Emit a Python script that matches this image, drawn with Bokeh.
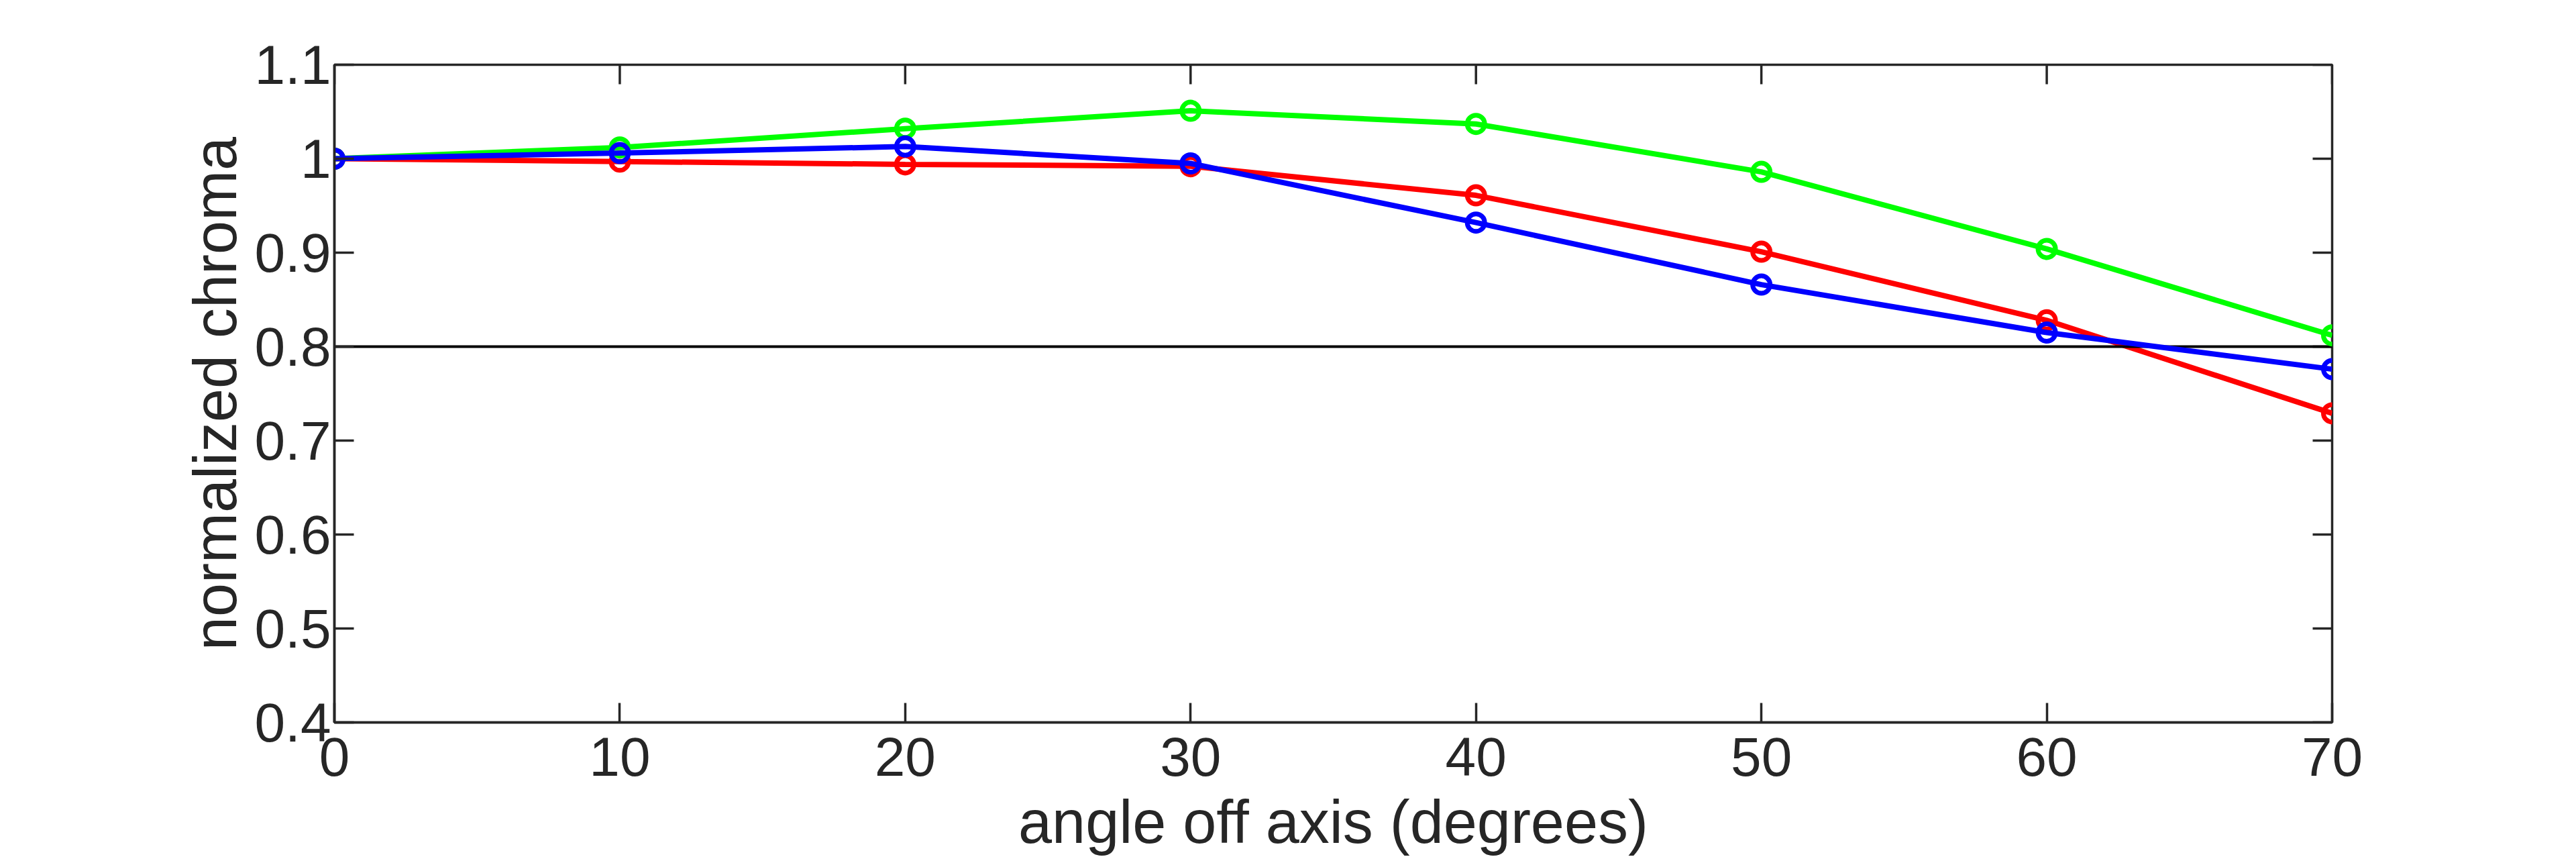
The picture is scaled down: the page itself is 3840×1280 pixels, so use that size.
import math
from bokeh.plotting import figure
from bokeh.models import Range1d, FixedTicker
from bokeh.embed import file_html
from bokeh.resources import INLINE

# ---- data ----
angles = [0, 10, 20, 30, 40, 50, 60, 70]
red_chroma = [1.000, 0.997, 0.994, 0.992, 0.961, 0.901, 0.828, 0.729]
green_chroma = [1.000, 1.012, 1.032, 1.051, 1.037, 0.986, 0.904, 0.812]
blue_chroma = [1.000, 1.006, 1.013, 0.995, 0.932, 0.866, 0.815, 0.776]
threshold = 0.8

x_ticks = [0, 10, 20, 30, 40, 50, 60, 70]
y_ticks = [0.4, 0.5, 0.6, 0.7, 0.8, 0.9, 1.0, 1.1]
y_tick_labels = ["0.4", "0.5", "0.6", "0.7", "0.8", "0.9", "1", "1.1"]
x_label = "angle off axis (degrees)"
y_label = "normalized chroma"
x_min, x_max = 0, 70
y_min, y_max = 0.4, 1.1

# ---- styling ----
FONT = "Liberation Sans"
TICK_FS = "82px"
LABEL_FS = "90px"
AX = "#262626"
AXW = 3.5
LW = 8
TICK_LEN = 29

p = figure(
    width=3840, height=1280,
    x_range=Range1d(x_min, x_max), y_range=Range1d(y_min, y_max),
    output_backend="svg", toolbar_location=None,
    min_border_left=498, min_border_right=364,
    min_border_top=96, min_border_bottom=204,
    background_fill_color="white", border_fill_color="white",
)
p.grid.visible = False
p.outline_line_color = AX
p.outline_line_width = AXW

for ax in (p.xaxis[0], p.yaxis[0]):
    ax.axis_line_color = AX
    ax.axis_line_width = AXW
    ax.major_tick_line_color = AX
    ax.major_tick_line_width = AXW
    ax.major_tick_in = TICK_LEN
    ax.major_tick_out = 0
    ax.minor_tick_line_color = None
    ax.major_label_text_font = FONT
    ax.major_label_text_font_size = TICK_FS
    ax.major_label_text_color = AX
    ax.axis_label_text_font = FONT
    ax.axis_label_text_font_size = LABEL_FS
    ax.axis_label_text_font_style = "normal"
    ax.axis_label_text_color = AX

xa = p.xaxis[0]
ya = p.yaxis[0]
xa.ticker = FixedTicker(ticks=x_ticks)
ya.ticker = FixedTicker(ticks=y_ticks)
ya.major_label_overrides = {t: l for t, l in zip(y_ticks, y_tick_labels)}
xa.axis_label = x_label
ya.axis_label = y_label
xa.major_label_standoff = 22
xa.axis_label_standoff = 16
ya.major_label_standoff = 5
ya.axis_label_standoff = 6

# inward ticks on the top and right edges (half of each dash is clipped by the frame)
p.scatter([x_max] * len(y_ticks), y_ticks, marker="dash", size=2 * TICK_LEN,
          line_color=AX, line_width=AXW)
p.scatter(x_ticks, [y_max] * len(x_ticks), marker="dash", size=2 * TICK_LEN,
          angle=math.pi / 2, line_color=AX, line_width=AXW)

def series(y, color):
    p.line(angles, y, line_color=color, line_width=LW)
    p.scatter(angles, y, marker="circle", size=26, fill_color=None,
              line_color=color, line_width=7)

series(red_chroma, "#ff0000")
p.line([x_min, x_max], [threshold, threshold], line_color="black", line_width=4)
series(green_chroma, "#00ff00")
series(blue_chroma, "#0000ff")

open("out.html", "w").write(file_html(p, INLINE))
